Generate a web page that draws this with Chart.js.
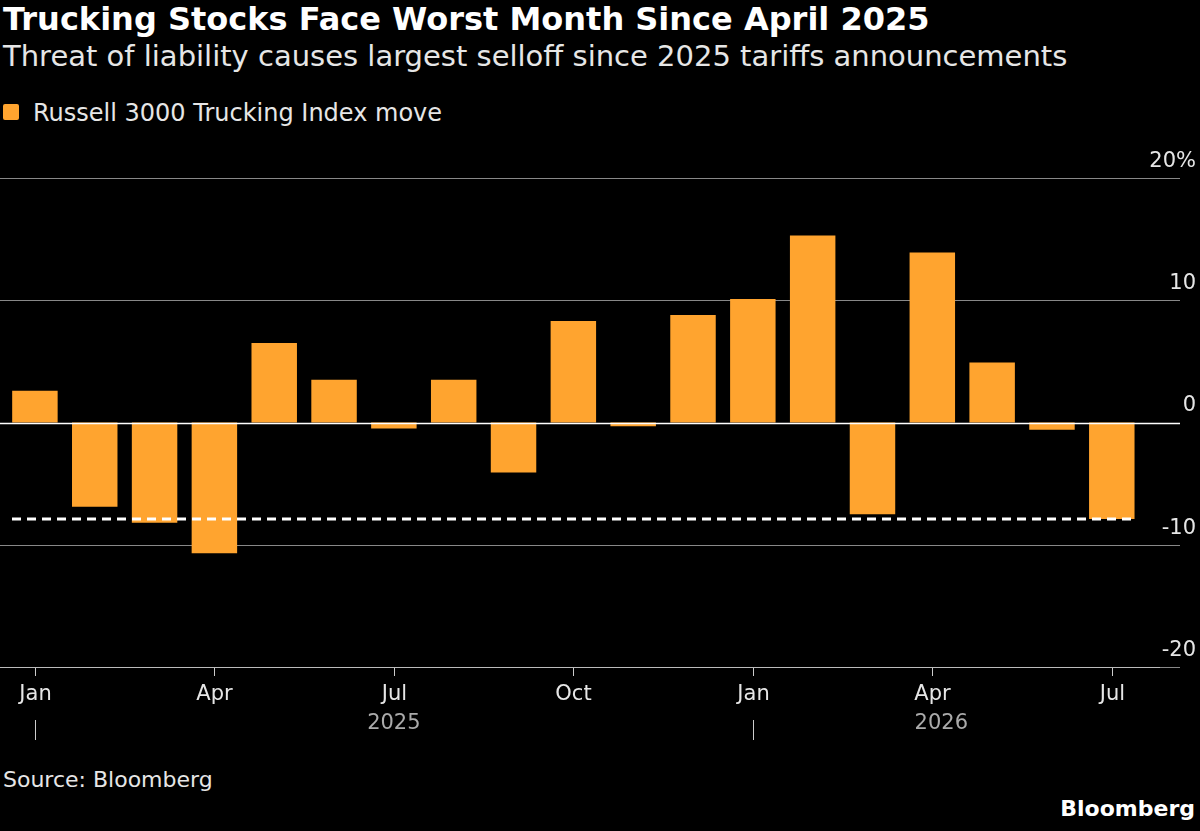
<!DOCTYPE html>
<html><head><meta charset="utf-8">
<script src="https://cdn.jsdelivr.net/npm/chart.js@4"></script>
<style>
html,body{margin:0;background:#000;width:1200px;height:831px;overflow:hidden;font-family:"DejaVu Sans",sans-serif;color:#fff}
#t{position:absolute;left:3px;top:0px;font-size:32px;font-weight:bold;white-space:nowrap}
#s{position:absolute;left:3px;top:39px;font-size:29px;color:#e6e6e6;white-space:nowrap}
#l{position:absolute;left:3px;top:99px;font-size:24px;color:#e6e6e6}
#l span{display:inline-block;width:16px;height:16px;background:#ffa42f;border-radius:2px;margin-right:14px;vertical-align:1px}
#src{position:absolute;left:3px;top:767px;font-size:22px;color:#e6e6e6}
#bb{position:absolute;right:5px;top:796px;font-size:22px;font-weight:bold}
canvas{position:absolute;left:0;top:0}
</style></head><body>
<div id="t">Trucking Stocks Face Worst Month Since April 2025</div>
<div id="s">Threat of liability causes largest selloff since 2025 tariffs announcements</div>
<div id="l"><span></span>Russell 3000 Trucking Index move</div>
<div id="src">Source: Bloomberg</div>
<div id="bb">Bloomberg</div>
<canvas id="c" width="1200" height="831"></canvas>
<script>
const months=["Jan","Feb","Mar","Apr","May","Jun","Jul","Aug","Sep","Oct","Nov","Dec","Jan","Feb","Mar","Apr","May","Jun","Jul"];
const values=[2.6,-6.9,-8.2,-10.7,6.5,3.5,-0.5,3.5,-4.1,8.3,-0.3,8.8,10.1,15.3,-7.5,13.9,4.9,-0.6,-7.9];
const yTicks=[20,10,0,-10,-20];
const xLabelIdx=[0,3,6,9,12,15,18];
const years=[{label:"2025",at:6},{label:"2026",at:15.15}];
const yearSeps=[0,12];
const refLine=-7.9;
const overlay={id:'ov',
beforeDatasetsDraw(ch){const c=ch.ctx,x=ch.scales.x,y=ch.scales.y;c.save();
c.strokeStyle='#888';c.lineWidth=1;
yTicks.forEach(v=>{if(v===0)return;const p=Math.round(y.getPixelForValue(v))+0.5;c.beginPath();c.moveTo(0,p);c.lineTo(1180,p);c.stroke();});
c.fillStyle='#e6e6e6';c.font='21px "DejaVu Sans"';c.textAlign='right';c.textBaseline='bottom';
yTicks.forEach(v=>c.fillText(v===20?'20%':String(v),1196,y.getPixelForValue(v)-6));
c.textAlign='center';c.textBaseline='top';
c.strokeStyle='#ccc';
xLabelIdx.forEach(i=>{const p=Math.round(x.getPixelForValue(i))+0.5;c.beginPath();c.moveTo(p,668);c.lineTo(p,676);c.stroke();c.fillText(months[i],p,684);});
c.fillStyle='#aaa';years.forEach(o=>c.fillText(o.label,x.getPixelForValue(o.at),713));
yearSeps.forEach(i=>{const p=Math.round(x.getPixelForValue(i))+0.5;c.beginPath();c.moveTo(p,720);c.lineTo(p,740);c.stroke();});
c.restore();},
afterDatasetsDraw(ch){const c=ch.ctx,x=ch.scales.x,y=ch.scales.y;c.save();
c.strokeStyle='#fff';c.lineWidth=1.5;let p=Math.round(y.getPixelForValue(0))+0.5;c.beginPath();c.moveTo(0,p);c.lineTo(1180,p);c.stroke();
c.strokeStyle='#bbb';c.lineWidth=1;c.beginPath();c.moveTo(0,667.5);c.lineTo(1160,667.5);c.stroke();
c.strokeStyle='#fff';c.lineWidth=3;c.setLineDash([9,6]);p=y.getPixelForValue(refLine);c.beginPath();c.moveTo(12,p);c.lineTo(1135,p);c.stroke();
c.restore();}};
new Chart(document.getElementById('c'),{type:'bar',
data:{datasets:[{data:values.map((v,i)=>({x:i,y:v})),backgroundColor:'#ffa42f',barPercentage:0.76,categoryPercentage:1}]},
options:{responsive:false,animation:false,events:[],layout:{padding:{left:5,right:20,top:178,bottom:164}},
plugins:{legend:{display:false},tooltip:{enabled:false}},
scales:{x:{type:'linear',offset:false,min:-0.5,max:19.14,display:false},y:{min:-20,max:20,display:false}}},
plugins:[overlay]});
</script></body></html>
